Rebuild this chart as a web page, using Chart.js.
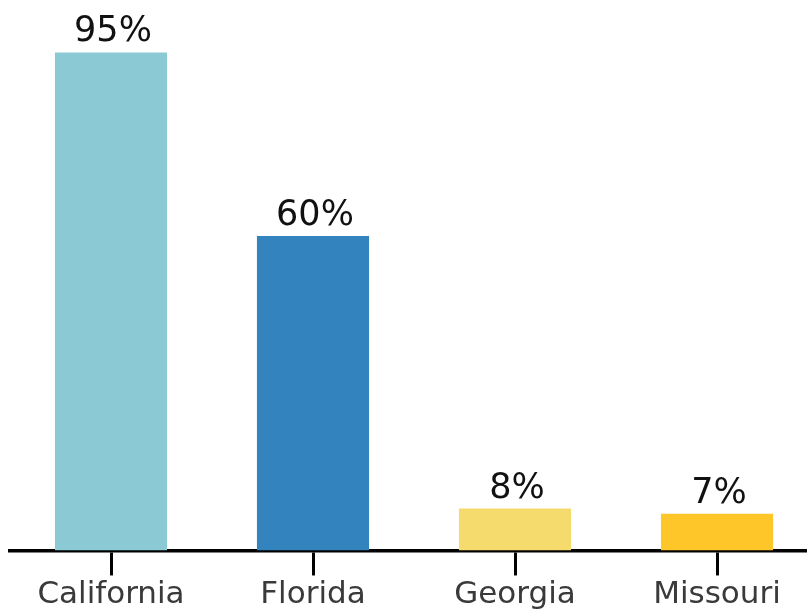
<!DOCTYPE html>
<html>
<head>
<meta charset="utf-8">
<script src="https://cdn.jsdelivr.net/npm/chart.js@4"></script>
<style>
  html, body { margin: 0; padding: 0; background: #fff; overflow: hidden; }
  #wrap { width: 820px; height: 614px; }
</style>
</head>
<body>
<div id="wrap"><canvas id="chart" width="820" height="614"></canvas></div>
<script>
const states = ['California', 'Florida', 'Georgia', 'Missouri'];
const shares = [95, 60, 8, 7];
const barColors = ['#8bcad4', '#3283be', '#f5da6d', '#fec629'];

const FONT = '"DejaVu Sans", sans-serif';

// draws "95%" etc. above each bar
const valueLabels = {
  id: 'valueLabels',
  afterDatasetsDraw(chart) {
    const ctx = chart.ctx;
    const meta = chart.getDatasetMeta(0);
    ctx.save();
    ctx.font = '35px ' + FONT;
    ctx.fillStyle = '#111';
    ctx.textAlign = 'center';
    ctx.textBaseline = 'alphabetic';
    meta.data.forEach(function(bar, i) {
      ctx.fillText(shares[i] + '%', bar.x + 2, bar.y - 11);
    });
    ctx.restore();
  }
};

new Chart(document.getElementById('chart'), {
  type: 'bar',
  data: {
    labels: states,
    datasets: [{
      data: shares,
      backgroundColor: barColors,
      borderWidth: 0,
      categoryPercentage: 1,
      barPercentage: 0.555
    }]
  },
  options: {
    responsive: false,
    animation: false,
    layout: { padding: { left: 10, right: 2, top: 0, bottom: 0 } },
    plugins: {
      legend: { display: false },
      tooltip: { enabled: false }
    },
    scales: {
      y: {
        display: false,
        min: 0,
        max: 105
      },
      x: {
        grid: {
          offset: false,
          drawOnChartArea: false,
          drawTicks: true,
          tickLength: 25,
          tickWidth: 3,
          tickColor: '#000'
        },
        border: { display: true, color: '#000', width: 3.5 },
        ticks: {
          padding: 3,
          color: '#3a3a3a',
          font: { family: FONT, size: 31, lineHeight: 1.05 }
        }
      }
    }
  },
  plugins: [valueLabels]
});
</script>
</body>
</html>
